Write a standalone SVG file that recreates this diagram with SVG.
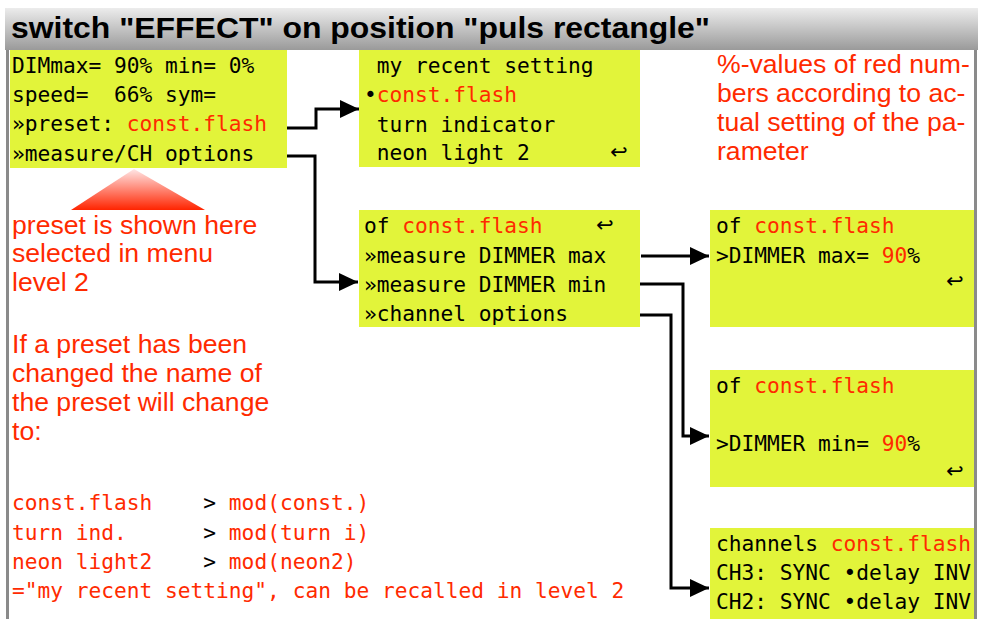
<svg xmlns="http://www.w3.org/2000/svg" width="984" height="619" viewBox="0 0 984 619">
  <defs>
    <linearGradient id="headerFill" x1="0" y1="0" x2="0" y2="1">
      <stop offset="0" stop-color="#ececec"/>
      <stop offset="1" stop-color="#9a9a9a"/>
    </linearGradient>
    <linearGradient id="pointerFill" x1="0" y1="0" x2="0" y2="1">
      <stop offset="0" stop-color="#ffe6e6"/>
      <stop offset="1" stop-color="#ff2400"/>
    </linearGradient>
    <marker id="arrow" markerUnits="userSpaceOnUse" markerWidth="20" markerHeight="20" refX="19" refY="9" orient="auto">
      <path d="M0,0 L19,9 L0,18 Z" fill="#000"/>
    </marker>
    <style>
      .panel { fill: #e2f43a; }
      .mono { font-family: "DejaVu Sans Mono", "Liberation Mono", monospace; font-size: 21.2px; fill: #000; }
      .ret { font-family: "DejaVu Sans", "Noto Sans", sans-serif; font-size: 21px; fill: #000; }
      .sans { font-family: "Liberation Sans", Arial, sans-serif; font-size: 26.6px; fill: #ff2a00; }
      .red { fill: #ff2a00; }
      .blk { fill: #000; }
      .title { font-family: "Liberation Sans", Arial, sans-serif; font-weight: bold; font-size: 29px; fill: #000; }
      .frame { stroke: #8a8a8a; stroke-width: 3; fill: none; }
      .wire { stroke: #000; stroke-width: 3; fill: none; marker-end: url(#arrow); }
    </style>
  </defs>

  <rect width="984" height="619" fill="#fff"/>

  <!-- title bar -->
  <g id="header">
    <rect x="5" y="8" width="973" height="42" fill="url(#headerFill)"/>
    <text class="title" x="11" y="38" textLength="699" lengthAdjust="spacingAndGlyphs">switch "EFFECT" on position "puls rectangle"</text>
  </g>

  <!-- main menu level 1 -->
  <g id="menu-main">
    <rect class="panel" x="10" y="50" width="277" height="118"/>
    <text class="mono" x="12" y="72.5">DIMmax= 90% min= 0%</text>
    <text class="mono" x="12" y="101.5" xml:space="preserve">speed=  66% sym=</text>
    <text class="mono" x="12" y="131">»preset: <tspan class="red">const.flash</tspan></text>
    <text class="mono" x="12" y="160.5">»measure/CH options</text>
  </g>

  <!-- preset list -->
  <g id="menu-preset">
    <rect class="panel" x="359" y="50" width="281" height="117"/>
    <text class="mono" x="364" y="73" xml:space="preserve"> my recent setting</text>
    <text class="mono" x="364" y="102">•<tspan class="red">const.flash</tspan></text>
    <text class="mono" x="364" y="131.5" xml:space="preserve"> turn indicator</text>
    <text class="mono" x="364" y="160" xml:space="preserve"> neon light 2</text>
    <text class="ret" x="610" y="159">↩</text>
  </g>

  <!-- measure / channel options -->
  <g id="menu-measure">
    <rect class="panel" x="359" y="210" width="281" height="117"/>
    <text class="mono" x="364" y="233">of <tspan class="red">const.flash</tspan></text>
    <text class="ret" x="596" y="232">↩</text>
    <text class="mono" x="364" y="262.5">»measure DIMMER max</text>
    <text class="mono" x="364" y="291.5">»measure DIMMER min</text>
    <text class="mono" x="364" y="320.5">»channel options</text>
  </g>

  <!-- DIMMER max setting -->
  <g id="set-dimmer-max">
    <rect class="panel" x="710" y="210" width="264" height="117"/>
    <text class="mono" x="716" y="233">of <tspan class="red">const.flash</tspan></text>
    <text class="mono" x="716" y="262.5">&gt;DIMMER max= <tspan class="red">90</tspan>%</text>
    <text class="ret" x="946" y="288">↩</text>
  </g>

  <!-- DIMMER min setting -->
  <g id="set-dimmer-min">
    <rect class="panel" x="710" y="370" width="264" height="117"/>
    <text class="mono" x="716" y="393">of <tspan class="red">const.flash</tspan></text>
    <text class="mono" x="716" y="451">&gt;DIMMER min= <tspan class="red">90</tspan>%</text>
    <text class="ret" x="946" y="478">↩</text>
  </g>

  <!-- channel settings -->
  <g id="set-channels">
    <rect class="panel" x="710" y="528" width="264" height="91"/>
    <text class="mono" x="716" y="551">channels <tspan class="red">const.flash</tspan></text>
    <text class="mono" x="716" y="580">CH3: SYNC •delay INV</text>
    <text class="mono" x="716" y="608.5">CH2: SYNC •delay INV</text>
  </g>

  <!-- notes -->
  <g id="note-preset">
    <polygon points="134,169 71,210 205,210" fill="url(#pointerFill)"/>
    <text class="sans" x="12" y="233.5">preset is shown here</text>
    <text class="sans" x="12" y="262">selected in menu</text>
    <text class="sans" x="12" y="291">level 2</text>
    <text class="sans" x="12" y="352.5">If a preset has been</text>
    <text class="sans" x="12" y="381.5">changed the name of</text>
    <text class="sans" x="12" y="410.5">the preset will change</text>
    <text class="sans" x="12" y="439.5">to:</text>
  </g>

  <g id="note-values">
    <text class="sans" x="717" y="72.5">%-values of red num-</text>
    <text class="sans" x="717" y="101.5">bers according to ac-</text>
    <text class="sans" x="717" y="130.5">tual setting of the pa-</text>
    <text class="sans" x="717" y="160">rameter</text>
  </g>

  <g id="note-renames">
    <text class="mono red" x="12" y="510" xml:space="preserve">const.flash    <tspan class="blk">&gt;</tspan> mod(const.)</text>
    <text class="mono red" x="12" y="539.5" xml:space="preserve">turn ind.      <tspan class="blk">&gt;</tspan> mod(turn i)</text>
    <text class="mono red" x="12" y="568.5" xml:space="preserve">neon light2    <tspan class="blk">&gt;</tspan> mod(neon2)</text>
    <text class="mono red" x="12" y="598">="my recent setting", can be recalled in level 2</text>
  </g>

  <!-- connectors -->
  <g id="connectors">
    <path class="wire" d="M287,128 H316 V109 H359"/>
    <path class="wire" d="M287,156 H315 V282 H358"/>
    <path class="wire" d="M641,256 H709"/>
    <path class="wire" d="M640,284 H683 V436 H709"/>
    <path class="wire" d="M640,315 H671 V588 H709"/>
  </g>

  <!-- page frame -->
  <g id="frame">
    <line class="frame" x1="7.5" y1="50" x2="7.5" y2="619"/>
    <line class="frame" x1="975.5" y1="50" x2="975.5" y2="619"/>
  </g>
</svg>
